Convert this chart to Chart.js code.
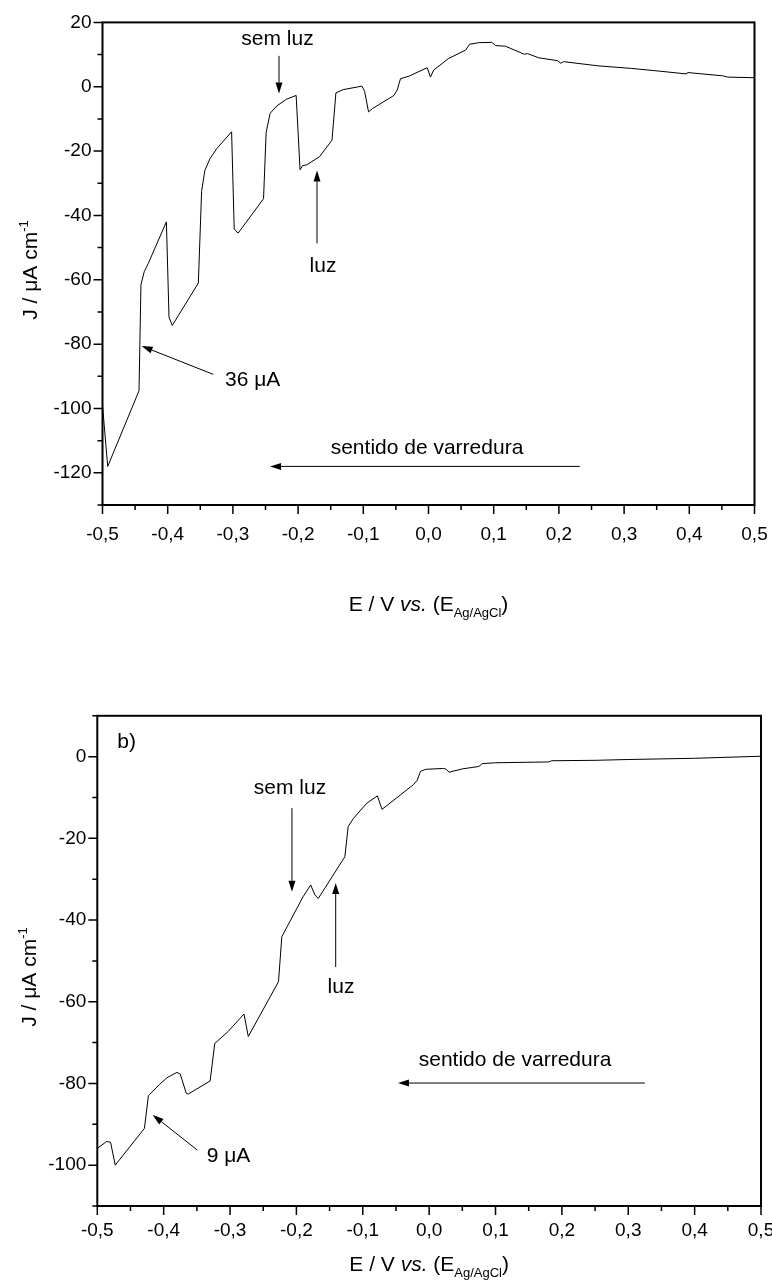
<!DOCTYPE html>
<html>
<head>
<meta charset="utf-8">
<script src="https://cdn.jsdelivr.net/npm/chart.js@4.4.1/dist/chart.umd.min.js"></script>
<style>
	html, body { margin: 0; padding: 0; background: #fff; overflow: hidden; width: 772px; height: 1288px; }
	.box { position: absolute; left: 0; }
	#box1 { top: 0; }
	#box2 { top: 650px; }
</style>
</head>
<body>
<div class="box" id="box1"><canvas id="chart1" width="800" height="650" style="width:800px;height:650px"></canvas></div>
<div class="box" id="box2"><canvas id="chart2" width="800" height="638" style="width:800px;height:638px"></canvas></div>
<script>
// curva a) : E (V) e J (uA cm-1)
const topE = [-0.500, -0.492, -0.444, -0.441, -0.436, -0.430, -0.402, -0.398, -0.393, -0.353,
	-0.348, -0.343, -0.335, -0.325, -0.302, -0.298, -0.292, -0.253, -0.249, -0.243,
	-0.233, -0.218, -0.203, -0.197, -0.193, -0.187, -0.167, -0.148, -0.142, -0.131,
	-0.102, -0.098, -0.092, -0.086, -0.053, -0.048, -0.043, -0.030, -0.002, 0.003,
	0.008, 0.031, 0.057, 0.063, 0.077, 0.097, 0.103, 0.118, 0.147, 0.152,
	0.169, 0.198, 0.203, 0.207, 0.260, 0.311, 0.347, 0.395, 0.398, 0.451,
	0.459, 0.500];
const topJ = [-99, -118, -94.5, -61.5, -57.5, -55, -42, -71.6, -74.2, -61,
	-32.5, -26, -22.3, -19.3, -14, -44.2, -45.5, -34.8, -14.2, -8.3,
	-6.0, -3.9, -2.7, -25.8, -24.5, -24.3, -21.7, -16.6, -1.9, -0.9,
	0.2, -1.4, -7.8, -6.8, -2.7, -1.0, 2.5, 3.3, 5.9, 3.0,
	5.2, 8.8, 11.4, 13.2, 13.7, 13.8, 12.8, 12.6, 10.1, 10.3,
	9.0, 8.1, 7.3, 7.8, 6.5, 5.7, 5.0, 4.0, 4.4, 3.4,
	3.0, 2.8];

// curva b)
const botE = [-0.500, -0.486, -0.480, -0.473, -0.429, -0.423, -0.406, -0.395, -0.380, -0.375,
	-0.366, -0.363, -0.330, -0.323, -0.303, -0.279, -0.2725, -0.227, -0.222, -0.210,
	-0.190, -0.1785, -0.172, -0.167, -0.127, -0.122, -0.114, -0.094, -0.078, -0.071,
	-0.024, -0.018, -0.013, -0.005, 0.020, 0.025, 0.030, 0.050, 0.075, 0.080,
	0.100, 0.180, 0.185, 0.250, 0.300, 0.400, 0.500];
const botJ = [-95.9, -94.2, -94.4, -100, -91, -83, -80.2, -78.6, -77.3, -77.7,
	-82.4, -82.6, -79.4, -70.2, -67.3, -63.0, -68.5, -55.1, -44.1, -40.4,
	-34.3, -31.4, -33.9, -34.7, -24.5, -17.1, -15.1, -11.4, -9.6, -12.9,
	-6.9, -5.8, -3.6, -3.1, -2.9, -3.0, -3.8, -3.0, -2.4, -1.7,
	-1.5, -1.3, -1.0, -0.9, -0.7, -0.4, 0.1];

// eixos
const xStep = 0.05, xMajor = 0.1;
const yStep = 10, yMajor = 20;

const FONT = '"Liberation Sans", Arial, sans-serif';

function isMajor(v, step) {
	const r = v / step;
	return Math.abs(r - Math.round(r)) < 1e-6;
}

function drawArrow(ctx, x1, y1, x2, y2) {
	const ang = Math.atan2(y2 - y1, x2 - x1);
	const hl = 11, hw = 3.5;
	const bx = x2 - hl * Math.cos(ang), by = y2 - hl * Math.sin(ang);
	ctx.beginPath();
	ctx.moveTo(x1, y1);
	ctx.lineTo(bx, by);
	ctx.stroke();
	ctx.beginPath();
	ctx.moveTo(x2, y2);
	ctx.lineTo(bx + hw * Math.sin(ang), by - hw * Math.cos(ang));
	ctx.lineTo(bx - hw * Math.sin(ang), by + hw * Math.cos(ang));
	ctx.closePath();
	ctx.fill();
}

// texto com partes (italico, indice)
function drawRich(ctx, parts, x, y) {
	let w = 0;
	parts.forEach(p => { ctx.font = p[1]; w += ctx.measureText(p[0]).width; });
	let cx = x - w / 2;
	ctx.textAlign = 'left';
	ctx.textBaseline = 'alphabetic';
	parts.forEach(p => {
		ctx.font = p[1];
		ctx.fillText(p[0], cx, y + p[2]);
		cx += ctx.measureText(p[0]).width;
	});
}

const annotatePlugin = {
	id: 'annotate',
	afterDraw(chart, args, opts) {
		const ctx = chart.ctx;
		const xs = chart.scales.x, ys = chart.scales.y;
		const a = chart.chartArea;
		ctx.save();
		ctx.strokeStyle = '#000';
		ctx.fillStyle = '#000';

		// tracos dos eixos
		ctx.lineWidth = 1.5;
		ctx.beginPath();
		xs.ticks.forEach(t => {
			const px = xs.getPixelForValue(t.value);
			const len = isMajor(t.value, xMajor) ? 9 : 5;
			ctx.moveTo(px, a.bottom);
			ctx.lineTo(px, a.bottom + len);
		});
		ys.ticks.forEach(t => {
			const py = ys.getPixelForValue(t.value);
			const len = isMajor(t.value, yMajor) ? 9 : 5;
			ctx.moveTo(a.left, py);
			ctx.lineTo(a.left - len, py);
		});
		ctx.stroke();
		ctx.lineWidth = 2;
		ctx.strokeRect(a.left, a.top, a.right - a.left, a.bottom - a.top);

		// textos
		opts.notes.forEach(n => {
			ctx.font = '21px ' + FONT;
			ctx.textAlign = n.align || 'center';
			ctx.textBaseline = 'middle';
			ctx.fillText(n.text, xs.getPixelForValue(n.e), ys.getPixelForValue(n.j));
		});

		// setas
		ctx.lineWidth = 1;
		opts.arrows.forEach(ar => {
			drawArrow(ctx, xs.getPixelForValue(ar[0]), ys.getPixelForValue(ar[1]),
				xs.getPixelForValue(ar[2]), ys.getPixelForValue(ar[3]));
		});

		// titulo eixo x
		drawRich(ctx, [
			['E / V ', '21px ' + FONT, 0],
			['vs.', 'italic 21px ' + FONT, 0],
			[' (E', '21px ' + FONT, 0],
			['Ag/AgCl', '13px ' + FONT, 6],
			[')', '21px ' + FONT, 0]
		], (a.left + a.right) / 2, opts.xTitleY + 8);

		// titulo eixo y
		ctx.translate(opts.yTitleX, opts.yTitleY);
		ctx.rotate(-Math.PI / 2);
		drawRich(ctx, [
			['J / \u03bcA cm', '21px ' + FONT, 0],
			['-1', '13px ' + FONT, -9]
		], 0, 8);
		ctx.restore();
	}
};

function makeChart(id, eVals, jVals, opt) {
	return new Chart(document.getElementById(id), {
		type: 'line',
		data: {
			datasets: [{
				data: eVals.map((e, i) => ({ x: e, y: jVals[i] })),
				borderColor: '#000',
				borderWidth: 1,
				pointRadius: 0,
				tension: 0,
				fill: false
			}]
		},
		options: {
			responsive: false,
			animation: false,
			devicePixelRatio: 1,
			layout: { padding: opt.padding },
			plugins: {
				legend: { display: false },
				tooltip: { enabled: false },
				annotate: opt.annotate
			},
			scales: {
				x: {
					type: 'linear',
					min: -0.5,
					max: 0.5,
					grid: { display: false, drawTicks: false },
					border: { display: false },
					ticks: {
						stepSize: xStep,
						autoSkip: false,
						maxRotation: 0,
						padding: opt.xPad,
						color: '#000',
						font: { family: FONT, size: 19 },
						callback: v => {
							if (!isMajor(v, xMajor)) return '';
							const n = Math.abs(v) < 1e-9 ? 0 : v;
							return n.toFixed(1).replace('.', ',');
						}
					},
					afterFit: s => { s.height = opt.xHeight; }
				},
				y: {
					min: opt.yMin,
					max: opt.yMax,
					grid: { display: false, drawTicks: false },
					border: { display: false },
					ticks: {
						stepSize: yStep,
						autoSkip: false,
						padding: 11,
						color: '#000',
						font: { family: FONT, size: 19 },
						callback: v => isMajor(v, yMajor) ? String(Math.round(v)) : ''
					},
					afterFit: s => { s.width = opt.yWidth; }
				}
			}
		},
		plugins: [annotatePlugin]
	});
}//makeChart

makeChart('chart1', topE, topJ, {
	yMin: -130, yMax: 20,
	padding: { left: 0, top: 16, right: 45.5, bottom: 0 },
	yWidth: 102.5, xHeight: 145, xPad: 18,
	annotate: {
		notes: [
			{ text: 'sem luz', e: -0.2316, j: 14.8 },
			{ text: 'luz', e: -0.1618, j: -55.8 },
			{ text: '36 \u03bcA', e: -0.312, j: -91.3, align: 'left' },
			{ text: 'sentido de varredura', e: -0.0023, j: -112.2 }
		],
		arrows: [
			[-0.2293, 9.6, -0.2293, -2.1],
			[-0.171, -48.7, -0.171, -26.0],
			[-0.330, -89.4, -0.440, -80.6],
			[0.232, -118, -0.243, -118]
		],
		xTitleY: 603,
		yTitleX: 29,
		yTitleY: 270
	}
});

makeChart('chart2', botE, botJ, {
	yMin: -110, yMax: 10,
	padding: { left: 0, top: 65.8, right: 39, bottom: 0 },
	yWidth: 97.3, xHeight: 82, xPad: 13,
	annotate: {
		notes: [
			{ text: 'b)', e: -0.470, j: 3.6, align: 'left' },
			{ text: 'sem luz', e: -0.2097, j: -7.7 },
			{ text: 'luz', e: -0.1328, j: -56.4 },
			{ text: '9 \u03bcA', e: -0.3352, j: -97.7, align: 'left' },
			{ text: 'sentido de varredura', e: 0.1294, j: -74.2 }
		],
		arrows: [
			[-0.2067, -12.6, -0.2067, -33.1],
			[-0.1408, -51.5, -0.1408, -30.9],
			[-0.3493, -96.3, -0.4165, -87.7],
			[0.325, -79.9, -0.047, -79.9]
		],
		xTitleY: 613,
		yTitleX: 28,
		yTitleY: 327
	}
});
</script>
</body>
</html>
